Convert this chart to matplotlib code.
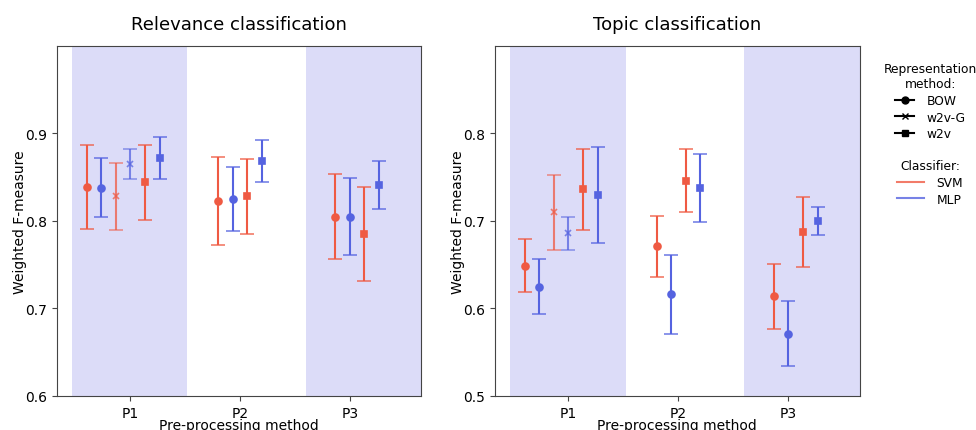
import numpy as np
import matplotlib
matplotlib.use("Agg")
import matplotlib.pyplot as plt
from matplotlib.lines import Line2D

groups = ["P1", "P2", "P3"]
reps = ["BOW", "w2v-G", "w2v"]
clfs = ["SVM", "MLP"]

# rows: BOW-SVM, BOW-MLP, w2vG-SVM, w2vG-MLP, w2v-SVM, w2v-MLP ; cols: P1, P2, P3
rel_mean = np.array([
    [0.839, 0.823, 0.805],
    [0.838, 0.825, 0.805],
    [0.828, np.nan, np.nan],
    [0.865, np.nan, np.nan],
    [0.844, 0.828, 0.785],
    [0.872, 0.869, 0.841],
])
rel_err = np.array([
    [0.048, 0.050, 0.049],
    [0.034, 0.037, 0.044],
    [0.038, np.nan, np.nan],
    [0.017, np.nan, np.nan],
    [0.043, 0.043, 0.054],
    [0.024, 0.024, 0.027],
])
top_mean = np.array([
    [0.649, 0.671, 0.614],
    [0.625, 0.616, 0.571],
    [0.710, np.nan, np.nan],
    [0.686, np.nan, np.nan],
    [0.736, 0.746, 0.687],
    [0.730, 0.738, 0.700],
])
top_err = np.array([
    [0.030, 0.035, 0.037],
    [0.031, 0.045, 0.037],
    [0.043, np.nan, np.nan],
    [0.019, np.nan, np.nan],
    [0.046, 0.036, 0.040],
    [0.055, 0.039, 0.016],
])

COLORS = {"SVM": "#ef5a43", "MLP": "#5563e0"}
MARKERS = {"BOW": "o", "w2v-G": "x", "w2v": "s"}
SHADE = "#dcdcf8"
STEP = 0.133
FIRST_SLOT = [-3, -1.5, -1]  # where the first present series sits in each group


def draw(ax, mean, err, title, ylim, yticks):
    ax.axvspan(-0.53, 0.52, color=SHADE, lw=0, zorder=0)
    ax.axvspan(1.6, 2.7, color=SHADE, lw=0, zorder=0)
    for g in range(len(groups)):
        slot = FIRST_SLOT[g]
        k = 0
        for r in reps:
            for c in clfs:
                m, e = mean[k, g], err[k, g]
                k += 1
                if np.isnan(m):
                    continue
                x = g + slot * STEP
                slot += 1
                alpha = 0.75 if r == "w2v-G" else 1.0
                ms = 4 if r == "w2v-G" else 5
                _, caps, _ = ax.errorbar(x, m, yerr=e, fmt=MARKERS[r], color=COLORS[c],
                                         ms=ms, mew=1.2, elinewidth=1.5, capsize=5,
                                         capthick=1.5, alpha=alpha, zorder=3)
                for cl in caps:
                    cl.set_alpha(0.8 * alpha)
    ax.set_xlim(-0.67, 2.65)
    ax.set_ylim(*ylim)
    ax.set_yticks(yticks)
    ax.set_xticks(range(len(groups)))
    ax.set_xticklabels(groups)
    ax.set_xlabel("Pre-processing method", fontsize=10, labelpad=-1)
    ax.set_ylabel("Weighted F-measure", fontsize=10, labelpad=-1.5)
    ax.set_title(title, fontsize=13, pad=12)
    ax.tick_params(labelsize=10, color="#444444")
    for sp in ax.spines.values():
        sp.set_color("#444444")


fig = plt.figure(figsize=(9.76, 4.31), dpi=100)
ax1 = fig.add_axes([0.0584, 0.079, 0.373, 0.812])
ax2 = fig.add_axes([0.507, 0.079, 0.374, 0.812])
draw(ax1, rel_mean, rel_err, "Relevance classification", (0.6, 1.0), [0.6, 0.7, 0.8, 0.9])
draw(ax2, top_mean, top_err, "Topic classification", (0.5, 0.9), [0.5, 0.6, 0.7, 0.8])

rep_handles = [Line2D([], [], color="black", marker=MARKERS[r], ms=5 if r != "w2v-G" else 4)
               for r in reps]
leg = fig.legend(rep_handles, reps, title="Representation\nmethod:", loc="upper center",
                 bbox_to_anchor=(0.953, 0.87), frameon=False, fontsize=8.8,
                 title_fontsize=8.8, handlelength=1.6, handletextpad=1.0,
                 labelspacing=0.3, alignment="center", borderaxespad=0.2)
leg.get_title().set_multialignment("center")
clf_handles = [Line2D([], [], color=COLORS[c], alpha=0.8) for c in clfs]
fig.legend(clf_handles, clfs, title="Classifier:", loc="upper center",
           bbox_to_anchor=(0.953, 0.645), frameon=False, fontsize=8.8,
           title_fontsize=8.8, handlelength=2.2, handletextpad=1.0,
           labelspacing=0.3, alignment="center", borderaxespad=0.2)

fig.savefig("out.png", dpi=100)
